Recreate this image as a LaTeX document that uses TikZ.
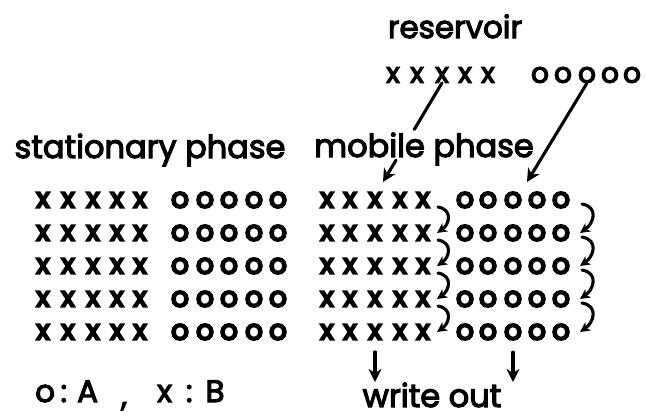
\documentclass[tikz,border=0pt]{standalone}
\usepackage{fontspec}
\setmainfont{Poppins}
% lettering weights: labels slightly heavy, column symbols heavier
\newfontfamily\lblfont{Poppins}[FakeBold=3.5]
\newfontfamily\resfont{Poppins}[FakeBold=4.5]
\newfontfamily\rowfont{Poppins}[FakeBold=7.5]
\usetikzlibrary{arrows.meta,calc}

\begin{document}
\begin{tikzpicture}[x=1pt,y=-1pt,
  lbl/.style={font=\lblfont\fontsize{32}{38}\selectfont, inner sep=0pt, anchor=base},
  glyph/.style={font=\rowfont\fontsize{28}{34}\selectfont, inner sep=0pt},
  rglyph/.style={font=\resfont\fontsize{28}{34}\selectfont, inner sep=0pt},
  link/.style={line width=3.1pt, line cap=round},
  tip/.style={-{Stealth[length=13pt,width=13pt,inset=4pt]}},
  shiftarrow/.style={link, -{Stealth[length=10pt,width=10pt,inset=3pt]}, out=-10, in=35, looseness=1.5},
]
\useasboundingbox (0,0) rectangle (646,416);

% labels
\node[lbl, font=\lblfont\fontsize{31}{36}\selectfont] (res) at (455,38) {reservoir};
\node[lbl] (stat) at (150,158) {stationary phase};
\node[lbl] (mob)  at (424,157) {mobile phase};
\node[lbl] (wout) at (432,407) {write out};
\node[lbl, anchor=base west, font=\lblfont\fontsize{31}{36}\selectfont] (legend) at (35,402)
  {o\hspace{5.5pt}:\hspace{10pt}A\hspace{23pt}\raisebox{-4pt}{,}\hspace{30pt}x\hspace{14pt}:\hspace{13pt}B};

% reservoir contents
\foreach \c/\x in {1/393,2/417,3/442,4/465,5/488}
  \node[rglyph] (rx-\c) at (\x,75) {x};
\foreach \c/\x in {1/540,2/563,3/587,4/610,5/632}
  \node[rglyph] (ro-\c) at (\x,75) {o};

% stationary and mobile phase columns
\foreach \r/\y in {1/200,2/233,3/266,4/299,5/332}{
  \foreach \c/\x in {1/43,2/68,3/93,4/117,5/140}
    \node[glyph] (sx-\r-\c) at (\x,\y) {x};
  \foreach \c/\x in {1/180,2/205,3/229,4/254,5/278}
    \node[glyph] (so-\r-\c) at (\x,\y) {o};
  \foreach \c/\x in {1/327,2/350,3/375,4/400,5/423}
    \node[glyph] (mx-\r-\c) at (\x,\y) {x};
  \foreach \c/\x in {1/465,2/488,3/513,4/537,5/561}
    \node[glyph] (mo-\r-\c) at (\x,\y) {o};
}

% feed from the reservoir into the mobile phase
\coordinate (tipA) at (383,182);
\coordinate (tipB) at (527,182);
\draw[link] (rx-3.south) -- ($(rx-3.south)!0.47!(tipA)$);
\draw[link, tip] ($(rx-3.south)!0.78!(tipA)$) -- (tipA);
\draw[link, tip] (ro-3.south) -- (tipB);

% shifts down the mobile phase
\foreach \r [evaluate=\r as \n using int(\r+1)] in {1,2,3,4}{
  \draw[shiftarrow] ([xshift=15pt,yshift=-7pt]mx-\r-5.center) to ([xshift=14pt]mx-\n-5.center);
  \draw[shiftarrow] ([xshift=21pt,yshift=-4pt]mo-\r-5.center) to ([xshift=19pt]mo-\n-5.center);
}

% write out
\coordinate (wrow) at (0,382);
\draw[link, tip, shorten <=12pt] (mx-5-3.south) -- (mx-5-3.south |- wrow);
\draw[link, tip, shorten <=12pt] (mo-5-3.south) -- (mo-5-3.south |- wrow);
\end{tikzpicture}
\end{document}
